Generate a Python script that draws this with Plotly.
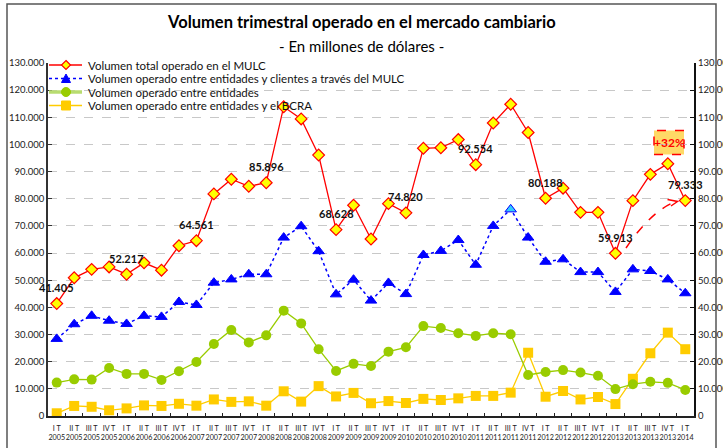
import plotly.graph_objects as go

# ---------------- data ----------------
quarters = ["I T", "II T", "III T", "IV T"]
years = [2005, 2006, 2007, 2008, 2009, 2010, 2011, 2012, 2013, 2014]
categories = [f"{q}<br>{y}" for y in years for q in quarters][:37]

total_mulc = [41405, 50900, 54000, 54900, 52217, 56400, 53700, 62700,
              64561, 81800, 87200, 84600, 85896, 113900, 109400, 96100,
              68628, 77600, 65200, 78200, 74820, 98600, 98800, 101800,
              92554, 107900, 114800, 104400, 80188, 83900, 75000, 75000,
              59913, 79300, 89000, 92900, 79333]

clientes = [28400, 33800, 36900, 35100, 33900, 36900, 36500, 42000,
            40900, 49100, 50300, 52200, 52200, 65700, 69900, 60700,
            44800, 50200, 42500, 49000, 44900, 59300, 60800, 64800,
            55700, 70000, 76100, 65700, 56800, 57700, 53000, 53000,
            45700, 54000, 53400, 50300, 45200]

entidades = [12300, 13500, 13400, 17700, 15500, 15500, 13300, 16500,
             19900, 26500, 31700, 27100, 29700, 38800, 34100, 24600,
             16600, 19200, 18400, 23700, 25300, 33100, 32400, 30500,
             29500, 30500, 30100, 15100, 16200, 16900, 16000, 14800,
             9900, 11700, 12600, 12200, 9600]

bcra = [1000, 3700, 3400, 2100, 2800, 3900, 3700, 4500,
        3800, 6100, 5200, 5400, 3800, 9100, 5300, 11000,
        7200, 8500, 4700, 5500, 4800, 6300, 5900, 6500,
        7400, 7400, 8600, 23300, 7100, 9200, 6100, 7000,
        4400, 13700, 23100, 30700, 24600]

series_names = ["Volumen total operado en el MULC",
                "Volumen operado entre entidades y clientes a través del MULC",
                "Volumen operado entre entidades",
                "Volumen operado entre entidades y el BCRA"]

labelled_idx = [0, 4, 8, 12, 16, 20, 24, 28, 32, 36]
highlight_idx = 26
variation_text = "+32%"

title_text = "<b>Volumen trimestral operado en el mercado cambiario</b>"
subtitle_text = "- En millones de dólares -"

FONT = "Lato, 'Open Sans', sans-serif"
RED, YEL, BLUE, GREEN, GOLD = "#FF0000", "#FFFF00", "#0000FF", "#99CC00", "#FFCC00"

# pixel helpers for decoration (plot area in pixels)
L, R, T, B = 48, 694, 63, 416
def fx(p):
    return (p - L) / (R - L)
def fy(p):
    return (B - p) / (B - T)

fig = go.Figure()

fig.add_trace(go.Scatter(x=categories, y=bcra, name=series_names[3], mode="lines+markers",
                         line=dict(color=GOLD, width=1.3),
                         marker=dict(symbol="square", size=10, color=GOLD),
                         showlegend=False))
fig.add_trace(go.Scatter(x=categories, y=entidades, name=series_names[2], mode="lines+markers",
                         line=dict(color=GREEN, width=1.3),
                         marker=dict(symbol="circle", size=10, color=GREEN),
                         showlegend=False))
blue_colors = [BLUE] * len(clientes)
blue_colors[highlight_idx] = "#33CCFF"
fig.add_trace(go.Scatter(x=categories, y=clientes, name=series_names[1], mode="lines+markers",
                         line=dict(color=BLUE, width=1.5, dash="dot"),
                         marker=dict(symbol="triangle-up", size=10, color=blue_colors,
                                     line=dict(color=BLUE, width=1)),
                         showlegend=False))
fig.add_trace(go.Scatter(x=categories, y=total_mulc, name=series_names[0], mode="lines+markers",
                         line=dict(color=RED, width=1.3),
                         marker=dict(symbol="diamond", size=9, color=YEL,
                                     line=dict(color=RED, width=1.2)),
                         showlegend=False))
# invisible trace to carry right axis
fig.add_trace(go.Scatter(x=categories, y=total_mulc, yaxis="y2", mode="markers",
                         marker=dict(opacity=0), hoverinfo="skip", showlegend=False))

annotations = []
for i in labelled_idx:
    v = total_mulc[i]
    txt = f"{v // 1000}.{v % 1000:03d}"
    annotations.append(dict(x=categories[i], y=v, xref="x", yref="y", text=f"<b>{txt}</b>",
                            showarrow=False, yshift=16, xanchor="center", yanchor="middle",
                            font=dict(family=FONT, size=11, color="#111")))

cx = (361.5 - L) / (R - L)
annotations.append(dict(x=cx, y=fy(22), xref="paper", yref="paper", text=title_text,
                        showarrow=False, xanchor="center", yanchor="middle",
                        font=dict(family=FONT, size=16.5, color="#000")))
annotations.append(dict(x=cx, y=fy(46), xref="paper", yref="paper",
                        text=subtitle_text, showarrow=False, xanchor="center", yanchor="middle",
                        font=dict(family=FONT, size=15, color="#000")))

# legend text (manual)
leg_rows = [65, 78.5, 92, 105.5]
for name, yy in zip(series_names, leg_rows):
    annotations.append(dict(x=fx(86), y=fy(yy), xref="paper", yref="paper", text=name,
                            showarrow=False, xanchor="left", yanchor="middle",
                            font=dict(family=FONT, size=11.5, color="#111")))

# +32% box text
annotations.append(dict(x=fx(669), y=fy(142.5), xref="paper", yref="paper",
                        text=f"<b>{variation_text}</b>", showarrow=False,
                        xanchor="center", yanchor="middle",
                        font=dict(family=FONT, size=12, color=RED)))

shapes = []
# outer frame
shapes.append(dict(type="rect", xref="paper", yref="paper",
                   x0=fx(7), x1=fx(716), y0=fy(520), y1=fy(4),
                   line=dict(color="#555", width=1.5), layer="above"))
# legend background
shapes.append(dict(type="rect", xref="paper", yref="paper",
                   x0=fx(49), x1=fx(385), y0=fy(112), y1=fy(57),
                   fillcolor="white", line=dict(width=0), layer="between"))
# legend symbols
shapes.append(dict(type="line", xref="paper", yref="paper", x0=fx(49), x1=fx(82),
                   y0=fy(65), y1=fy(65), line=dict(color=RED, width=1.5)))
shapes.append(dict(type="path", xref="paper", yref="paper",
                   path=f"M {fx(66)} {fy(60.5)} L {fx(70.5)} {fy(65)} L {fx(66)} {fy(69.5)} L {fx(61.5)} {fy(65)} Z",
                   fillcolor=YEL, line=dict(color=RED, width=1.2)))
shapes.append(dict(type="line", xref="paper", yref="paper", x0=fx(49), x1=fx(82),
                   y0=fy(78.5), y1=fy(78.5), line=dict(color=BLUE, width=1.5, dash="dot")))
shapes.append(dict(type="path", xref="paper", yref="paper",
                   path=f"M {fx(66)} {fy(74)} L {fx(70.5)} {fy(82.5)} L {fx(61.5)} {fy(82.5)} Z",
                   fillcolor=BLUE, line=dict(color=BLUE, width=1)))
shapes.append(dict(type="line", xref="paper", yref="paper", x0=fx(49), x1=fx(82),
                   y0=fy(92), y1=fy(92), line=dict(color="#B8DC70", width=3.5)))
shapes.append(dict(type="circle", xref="paper", yref="paper", x0=fx(61.5), x1=fx(70.5),
                   y0=fy(96.5), y1=fy(87.5), fillcolor=GREEN, line=dict(color=GREEN, width=1)))
shapes.append(dict(type="line", xref="paper", yref="paper", x0=fx(49), x1=fx(82),
                   y0=fy(105.5), y1=fy(105.5), line=dict(color=GOLD, width=1.5)))
shapes.append(dict(type="rect", xref="paper", yref="paper", x0=fx(61.5), x1=fx(70.5),
                   y0=fy(110), y1=fy(101), fillcolor=GOLD, line=dict(color=GOLD, width=1)))
# +32% box
shapes.append(dict(type="rect", xref="paper", yref="paper", x0=fx(654), x1=fx(684),
                   y0=fy(154.5), y1=fy(130.5), fillcolor="#FFD966",
                   line=dict(color=RED, width=1.5, dash="dash"), layer="between"))
# dashed curved arrow
shapes.append(dict(type="path", xref="paper", yref="paper",
                   path=f"M {fx(626)} {fy(248)} Q {fx(651.4)} {fy(210.5)} {fx(676)} {fy(201.5)}",
                   line=dict(color=RED, width=1.5, dash="dash")))
shapes.append(dict(type="path", xref="paper", yref="paper",
                   path=f"M {fx(667.5)} {fy(199.5)} L {fx(677.5)} {fy(201.5)} L {fx(671)} {fy(206)}",
                   line=dict(color=RED, width=1.5)))

axis_font = dict(family=FONT, size=9.5, color="#222")
fig.update_layout(
    width=723, height=448,
    margin=dict(l=L, r=723 - R, t=T, b=448 - B, autoexpand=False),
    paper_bgcolor="white", plot_bgcolor="white",
    separators=",.",
    showlegend=False,
    annotations=annotations,
    shapes=shapes,
    xaxis=dict(type="category", categoryorder="array", categoryarray=categories,
               range=[-0.5, len(categories) - 0.5], automargin=False,
               tickson="boundaries", ticks="inside", ticklen=3, tickcolor="#222",
               showline=True, linecolor="#222", linewidth=2, showgrid=False,
               ticklabelstandoff=4,
               tickfont=dict(family=FONT, size=7.2, color="#222"), tickangle=0),
    yaxis=dict(range=[0, 130000], dtick=10000, tickformat=",d", automargin=False,
               showgrid=True, gridcolor="#C8C8C8", gridwidth=1, griddash="dash",
               zeroline=False, showline=True, linecolor="#333", linewidth=1.5,
               ticks="inside", ticklen=4, tickcolor="#333", tickfont=axis_font),
    yaxis2=dict(range=[0, 130000], dtick=10000, tickformat=",d", overlaying="y", side="right",
                automargin=False,
                showgrid=False, zeroline=False, showline=True, linecolor="#111", linewidth=2,
                ticks="inside", ticklen=4, tickcolor="#111", tickfont=axis_font),
)

fig.write_html("out.html", config={"displayModeBar": False},
               post_script="document.body.style.margin='0';document.body.style.overflow='hidden';")
